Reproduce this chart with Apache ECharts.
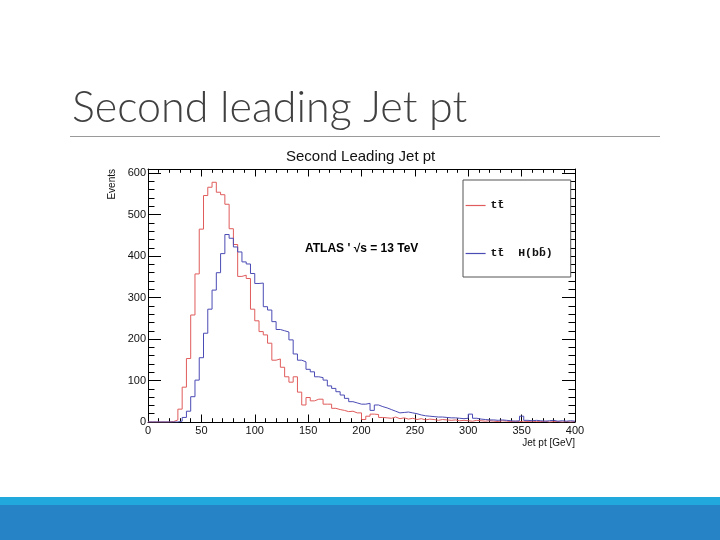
<!DOCTYPE html>
<html><head><meta charset="utf-8">
<script src="https://cdn.jsdelivr.net/npm/echarts@6/dist/echarts.min.js"></script>
<style>html,body{margin:0;padding:0;background:#fff}#c{width:720px;height:540px}</style>
</head><body><div id="c"></div>
<script>
// ---- data (bins of 4 GeV from 0 to 400) ----
const binWidth = 4;
const ttbar = [0,0,0,0,0,1,5,31,84,153,258,357,465,546,566,578,554,548,525,466,
  428,351,354,346,272,244,218,210,190,149,152,132,109,96,109,72,41,59,51,55,
  55,43,43,33,30,28,25,26,22,22,6,14,19,18,11,10,9,12,8,10,
  7,9,6,8,5,7,6,4,6,5,4,5,3,4,3,2,4,3,2,3,
  2,1,3,2,1,2,1,2,1,2,1,1,2,0,1,1,0,1,0,1];
const ttH = [0,0,0,0,0,0,0,2,11,26,61,101,155,214,272,318,360,406,452,443,
  422,410,386,381,358,334,335,278,270,242,223,220,217,198,164,149,145,127,121,109,
  107,101,87,81,73,65,57,49,46,43,43,45,28,41,37,34,30,26,22,23,
  24,22,20,17,15,14,13,12,12,11,10,10,9,8,9,19,9,7,6,5,
  5,4,5,4,3,2,3,14,4,3,4,3,2,3,4,2,3,2,3,2];
const seriesNames = ['tt\u0304', 'tt\u0304  H(bb\u0304)'];
const seriesColors = ['#e05c5c', '#4b4bb5'];
const xTickValues = [0, 50, 100, 150, 200, 250, 300, 350, 400];
const yTickValues = [0, 100, 200, 300, 400, 500, 600];

function toSteps(vals) {
  const d = vals.map((v, i) => [i * binWidth, v]);
  d.push([vals.length * binWidth, vals[vals.length - 1]]);
  return d;
}

const black = '#000';
const lblFont = 'Liberation Sans';
function xAx(pos, labels) {
  return {
    type: 'value', position: pos, min: xTickValues[0], max: xTickValues[xTickValues.length - 1], interval: 50,
    axisLine: { show: true, onZero: false, lineStyle: { color: black, width: 1 } },
    axisTick: { show: true, inside: true, length: 7.5, lineStyle: { color: black, width: 1 } },
    minorTick: { show: true, splitNumber: 5, length: 3.8, lineStyle: { color: black, width: 1 } },
    axisLabel: { show: labels, margin: 3, fontSize: 11, color: '#111', fontFamily: lblFont },
    splitLine: { show: false }
  };
}
function yAx(pos, interval, len, labels, line) {
  return {
    type: 'value', position: pos, min: 0, max: 610, interval: interval,
    axisLine: { show: line, onZero: false, lineStyle: { color: black, width: 1 } },
    axisTick: { show: true, inside: true, length: len, lineStyle: { color: black, width: 1 } },
    axisLabel: { show: labels, margin: 2, fontSize: 11, color: '#111', fontFamily: lblFont,
      showMaxLabel: false, formatter: v => (yTickValues.indexOf(v) >= 0 ? String(v) : '') },
    splitLine: { show: false }
  };
}

const chart = echarts.init(document.getElementById('c'), null, { renderer: 'canvas' });
chart.setOption({
  animation: false,
  backgroundColor: '#fff',
  grid: { left: 148, right: 145, top: 169, bottom: 118, containLabel: false },
  xAxis: [xAx('bottom', true), xAx('top', false)],
  yAxis: [yAx('left', 100, 13, true, true), yAx('left', 20, 6.5, false, false),
          yAx('right', 100, 13, false, true), yAx('right', 20, 6.5, false, false)],
  legend: {
    orient: 'vertical', left: 463, top: 180, padding: [18.5, 18, 16.5, 2],
    itemGap: 34, itemWidth: 20, itemHeight: 14,
    borderColor: '#555', borderWidth: 1, backgroundColor: '#fff', selectedMode: false,
    itemStyle: { color: 'rgba(0,0,0,0)', borderWidth: 0, opacity: 0 },
    textStyle: { fontFamily: 'Liberation Mono', fontWeight: 'bold', fontSize: 11.5, color: '#111', lineHeight: 14 },
    data: seriesNames.map((n, i) => ({ name: n, lineStyle: { color: seriesColors[i], width: 1.2, opacity: 1 } }))
  },
  series: [
    { type: 'line', name: seriesNames[0], data: toSteps(ttbar), step: 'end', symbol: 'none',
      lineStyle: { color: seriesColors[0], width: 1 }, itemStyle: { color: seriesColors[0] }, xAxisIndex: 0, yAxisIndex: 0 },
    { type: 'line', name: seriesNames[1], data: toSteps(ttH), step: 'end', symbol: 'none',
      lineStyle: { color: seriesColors[1], width: 1 }, itemStyle: { color: seriesColors[1] }, xAxisIndex: 0, yAxisIndex: 0 }
  ],
  graphic: [
    { type: 'text', x: 72, y: 108, style: { text: 'Second leading Jet pt', fill: '#404040', fontSize: 43, fontWeight: 300,
      fontFamily: 'Lato', textAlign: 'left', align: 'left', textVerticalAlign: 'middle', verticalAlign: 'middle' } },
    { type: 'line', shape: { x1: 70, y1: 136.5, x2: 660, y2: 136.5 }, style: { stroke: '#9a9a9a', lineWidth: 1 } },
    { type: 'rect', shape: { x: 0, y: 497, width: 720, height: 8 }, style: { fill: '#21a8dc' } },
    { type: 'rect', shape: { x: 0, y: 505, width: 720, height: 35 }, style: { fill: '#2683c6' } },
    { type: 'text', x: 286, y: 157, style: { text: 'Second Leading Jet pt', fill: '#111', fontSize: 15, fontFamily: lblFont,
      textAlign: 'left', align: 'left', textVerticalAlign: 'middle', verticalAlign: 'middle' } },
    { type: 'text', x: 305, y: 248.5, style: { text: "ATLAS ' \u221As = 13 TeV", fill: '#000', fontSize: 12, fontWeight: 'bold',
      fontFamily: lblFont, textAlign: 'left', align: 'left', textVerticalAlign: 'middle', verticalAlign: 'middle' } },
    { type: 'text', x: 112.5, y: 169, rotation: Math.PI / 2, style: { text: 'Events', fill: '#111', fontSize: 10, fontFamily: lblFont,
      textAlign: 'right', align: 'right', textVerticalAlign: 'middle', verticalAlign: 'middle' } },
    { type: 'text', x: 575, y: 443, style: { text: 'Jet pt [GeV]', fill: '#111', fontSize: 10, fontFamily: lblFont,
      textAlign: 'right', align: 'right', textVerticalAlign: 'middle', verticalAlign: 'middle' } }
  ]
});
</script></body></html>
